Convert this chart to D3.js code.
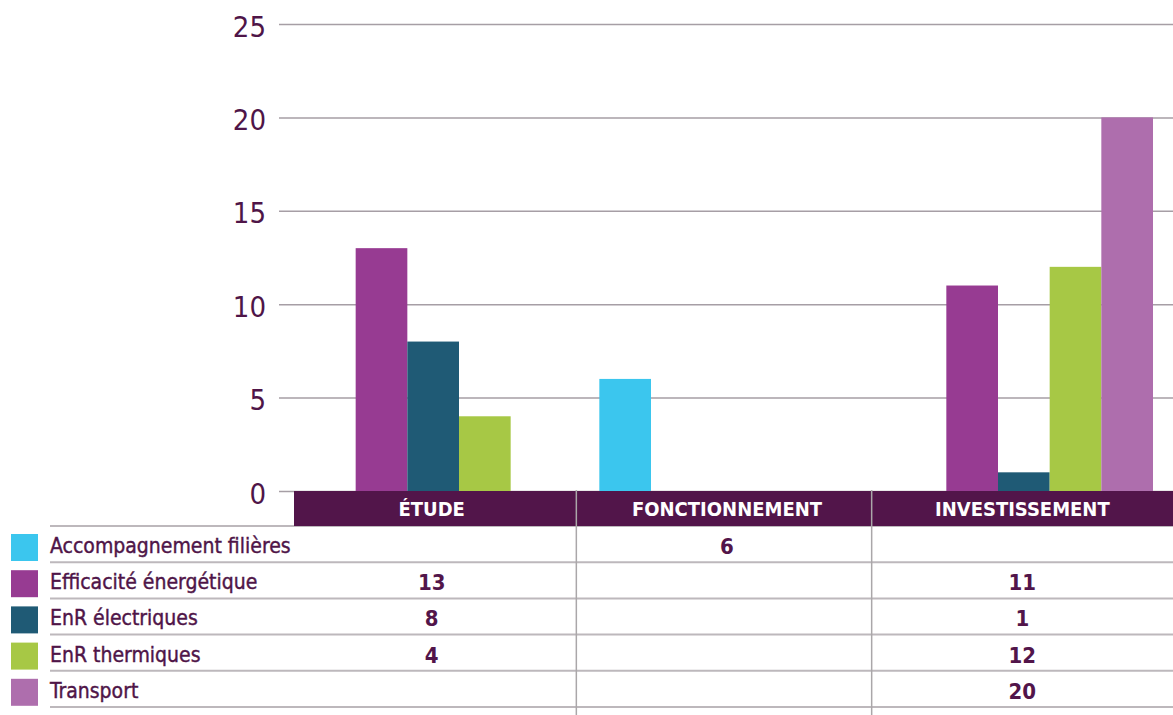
<!DOCTYPE html>
<html>
<head>
<meta charset="utf-8">
<script src="https://cdn.jsdelivr.net/npm/d3@7"></script>
<style>
  body { margin: 0; background: #fff; }
  svg { display: block; }
</style>
</head>
<body>
<div id="MyCanvas"></div>
<script type="text/javascript">

// data
var categories = ["ÉTUDE", "FONCTIONNEMENT", "INVESTISSEMENT"];
var seriesNames = ["Accompagnement filières", "Efficacité énergétique", "EnR électriques", "EnR thermiques", "Transport"];
var accompagnement = [null, 6, null];
var efficacite = [13, null, 11];
var enrElec = [8, null, 1];
var enrTherm = [4, null, 12];
var transport = [null, null, 20];
var yTicks = [0, 5, 10, 15, 20, 25];

var seriesValues = [accompagnement, efficacite, enrElec, enrTherm, transport];
var colors = ["#3bc6ee", "#973b92", "#1f5a75", "#a7c845", "#ae6ead"];

var W = 1173, H = 715;
var textCol = "#4f1548";
var headCol = "#52154a";
var font = "'Liberation Sans Narrow', 'DejaVu Sans Condensed', 'Open Sans', sans-serif";

var svg = d3.select("#MyCanvas").append("svg")
    .attr("width", W)
    .attr("height", H);

var y = d3.scaleLinear().domain([0, 25]).range([491, 24]);
var x0 = d3.scaleBand().domain(categories).range([284, 1170]).paddingInner(0);
var x1 = d3.scaleBand().domain(seriesNames).range([20, x0.bandwidth() - 17]);

// grid + y labels
var yAxis = svg.append("g")
    .attr("transform", "translate(279,0)")
    .call(d3.axisLeft(y).tickValues(yTicks).tickSize(-(W - 279)).tickPadding(13));
yAxis.select(".domain").remove();
yAxis.selectAll("line").attr("stroke", "#a69ea5").attr("stroke-width", 1.5);
yAxis.selectAll("text")
    .attr("fill", textCol)
    .attr("dy", "0.42em")
    .style("font-family", font)
    .style("font-size", "29px");

// bars
var bars = [];
seriesNames.forEach(function(s, si) {
    categories.forEach(function(c, ci) {
        var v = seriesValues[si][ci];
        if (v != null) bars.push({cat: c, ser: s, si: si, v: v});
    });
});

svg.append("g").selectAll("rect")
    .data(bars)
    .enter().append("rect")
    .attr("x", function(d) { return x0(d.cat) + x1(d.ser); })
    .attr("y", function(d) { return y(d.v); })
    .attr("width", x1.bandwidth())
    .attr("height", function(d) { return y(0) - y(d.v); })
    .attr("fill", function(d) { return colors[d.si]; });

// table rows
var rowTop = 526, rowH = 36.2;
var rows = svg.append("g");
d3.range(seriesNames.length + 1).forEach(function(i) {
    rows.append("line")
        .attr("x1", 50).attr("x2", W)
        .attr("y1", rowTop + i * rowH).attr("y2", rowTop + i * rowH)
        .attr("stroke", "#bdb8bc").attr("stroke-width", 2);
});
rows.append("line")
    .attr("x1", 279).attr("x2", 294)
    .attr("y1", rowTop).attr("y2", rowTop)
    .attr("stroke", "#bdb8bc").attr("stroke-width", 2);

// header band
svg.append("rect")
    .attr("x", 294).attr("y", y(0))
    .attr("width", W - 294).attr("height", rowTop - y(0))
    .attr("fill", headCol);

svg.append("g").selectAll("text")
    .data(categories)
    .enter().append("text")
    .attr("x", function(d) { return x0(d) + x0.bandwidth() / 2; })
    .attr("y", 516)
    .attr("text-anchor", "middle")
    .attr("fill", "#fff")
    .style("font-family", font)
    .style("font-weight", "bold")
    .style("font-size", "20px")
    .text(function(d) { return d; });

// column dividers
svg.append("g").selectAll("line")
    .data(categories.slice(1))
    .enter().append("line")
    .attr("x1", function(d) { return x0(d) - 3; })
    .attr("x2", function(d) { return x0(d) - 3; })
    .attr("y1", y(0) - 1).attr("y2", H)
    .attr("stroke", "#aaa7a9").attr("stroke-width", 1.5);

// legend
var leg = svg.append("g").selectAll("g")
    .data(seriesNames)
    .enter().append("g")
    .attr("transform", function(d, i) { return "translate(0," + (rowTop + i * rowH) + ")"; });
leg.append("rect")
    .attr("x", 11).attr("y", 8)
    .attr("width", 27).attr("height", 27)
    .attr("fill", function(d, i) { return colors[i]; });
leg.append("text")
    .attr("x", 50).attr("y", 27)
    .attr("fill", textCol)
    .attr("stroke", textCol)
    .attr("stroke-width", 0.4)
    .style("font-family", font)
    .style("font-size", "21px")
    .text(function(d) { return d; });

// values in the table
svg.append("g").selectAll("text")
    .data(bars)
    .enter().append("text")
    .attr("x", function(d) { return x0(d.cat) + x0.bandwidth() / 2; })
    .attr("y", function(d) { return rowTop + d.si * rowH + 28; })
    .attr("text-anchor", "middle")
    .attr("fill", headCol)
    .style("font-family", font)
    .style("font-weight", "bold")
    .style("font-size", "22px")
    .text(function(d) { return d.v; });

</script>
</body>
</html>
